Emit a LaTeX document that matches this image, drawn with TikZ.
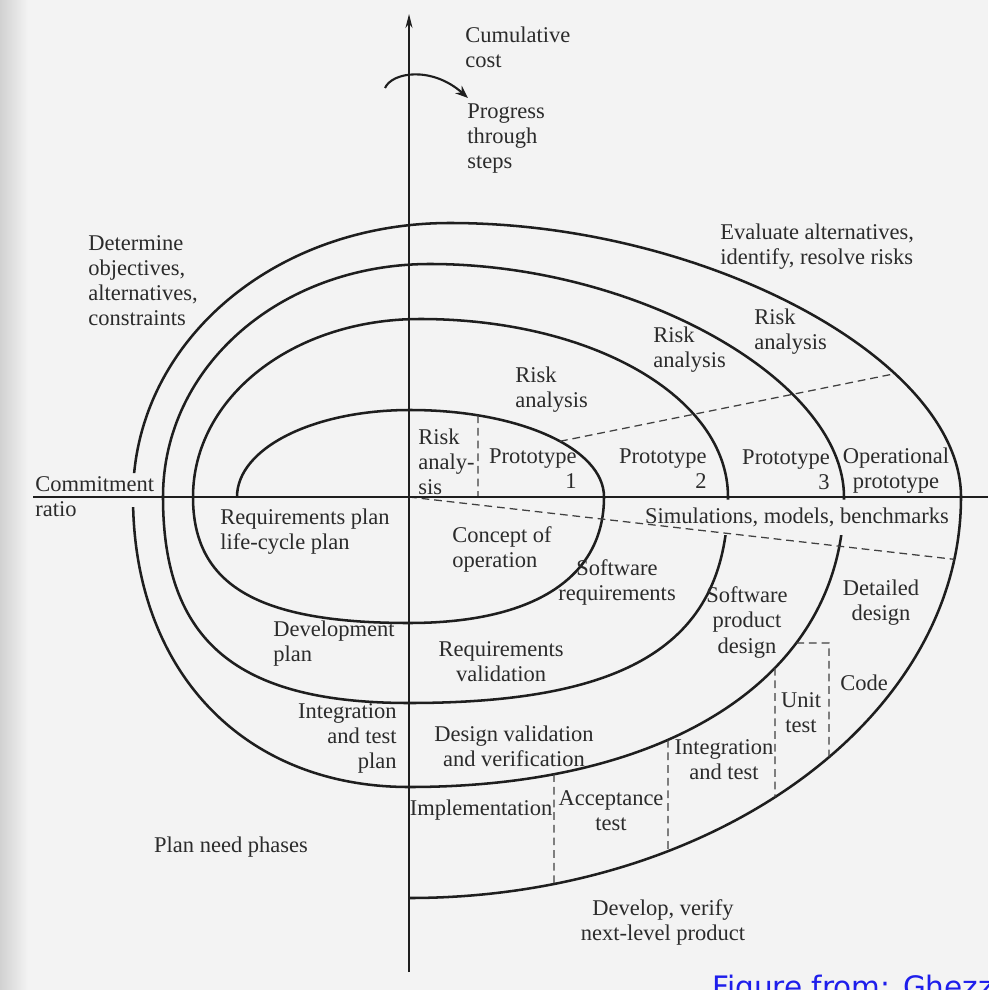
\documentclass[tikz,border=0pt]{standalone}
\usepackage{fontspec}
\setmainfont{Liberation Serif}
\newfontfamily\notefont{DejaVu Sans}
\usetikzlibrary{arrows.meta,intersections}
\definecolor{paper}{HTML}{F3F3F3}
\definecolor{ink}{HTML}{1E1E1E}
\definecolor{txt}{HTML}{2B2B2B}
\definecolor{noteblue}{RGB}{30,30,235}

\begin{document}
\begin{tikzpicture}[x=0.025cm,y=-0.025cm,
  spiral/.style={draw=ink,line width=1.8pt,line join=round},
  axisline/.style={draw=ink,line width=0.9pt},
  divider/.style={draw=ink!85,line width=0.9pt,dash pattern=on 5.5pt off 3.5pt},
  lbl/.style={inner sep=0pt,text=txt,font=\fontsize{16}{17.8}\selectfont},
]
\useasboundingbox (0,0) rectangle (988,990);
\fill[paper] (0,0) rectangle (988,990);
\shade[left color=black!18,right color=paper] (0,0) rectangle (28,990);

% ---------- the spiral (gaps left for two labels) ----------
\begin{scope}[even odd rule]
\clip (-5,-5) rectangle (995,995)
      (636,499.5) rectangle (955,535)
      (120,473) rectangle (146,507);
\draw[spiral] (237,497)
 .. controls (237,448.3) and (313.1,410) .. (410,410)
 .. controls (518.6,410) and (604,448.3) .. (604,497)
 .. controls (604,577.6) and (533.8,623) .. (409,623)
 .. controls (257.8,623) and (193,585.2) .. (193,497)
 .. controls (193,397.3) and (292.9,319) .. (420,319)
 .. controls (592.5,319) and (728,397.3) .. (728,497)
 .. controls (728,641.2) and (632.3,703) .. (409,703)
 .. controls (236.8,703) and (163,641.2) .. (163,497)
 .. controls (163,366.5) and (280.5,264) .. (430,264)
 .. controls (637,264) and (844,380.5) .. (844,497)
 .. controls (844,673.9) and (674.4,787) .. (409,787)
 .. controls (243.4,787) and (133,671) .. (133,497)
 .. controls (133,343.6) and (272.5,223) .. (450,223)
 .. controls (705.5,223) and (961,360) .. (961,497)
 .. controls (961,718.4) and (713.7,898) .. (409,898);
\end{scope}

% turns of the spiral used to place the dashed dividers
\path[name path=aone] (410,410) .. controls (518.6,410) and (604,448.3) .. (604,497);
\path[name path=afour] (450,223) .. controls (705.5,223) and (961,360) .. (961,497);
\path[name path=bthree] (844,497) .. controls (844,673.9) and (674.4,787) .. (409,787);
\path[name path=bfour] (961,497) .. controls (961,718.4) and (713.7,898) .. (409,898);

\coordinate (O) at (409,497);
\coordinate (axR) at (478,497);

\path[name path=v478] (478,300) -- (478,497);
\path[name intersections={of=aone and v478,by=ra}];
\path[name path=v560] (560,300) -- (560,497);
\path[name intersections={of=aone and v560,by=ua}];
\path[name path=v895] (895,200) -- (895,497);
\path[name intersections={of=afour and v895,by=ub}];
\path[name path=low] (409,497) -- (990,563.4);
\path[name intersections={of=bfour and low,by=lb}];

\path[name path=v554] (554,500) -- (554,990);
\path[name intersections={of=bthree and v554,by=pa}];
\path[name intersections={of=bfour and v554,by=qa}];
\path[name path=v668] (668,500) -- (668,990);
\path[name intersections={of=bthree and v668,by=pb}];
\path[name intersections={of=bfour and v668,by=qb}];
\path[name path=v775] (775,500) -- (775,990);
\path[name intersections={of=bthree and v775,by=pc}];
\path[name intersections={of=bfour and v775,by=qc}];
\path[name path=h643] (700,643) -- (900,643);
\path[name intersections={of=bthree and h643,by=ta}];
\coordinate (tb) at (829,643);
\path[name path=v829] (829,643) -- (829,990);
\path[name intersections={of=bfour and v829,by=tc}];

% ---------- dashed dividers ----------
\draw[divider] (ra) -- (axR);
\draw[divider] (ua) -- (ub);
\draw[divider] (O) -- (lb);
\draw[divider] (pa) -- (qa);
\draw[divider] (pb) -- (qb);
\draw[divider] (pc) -- (qc);
\draw[divider] (ta) -- (tb) -- (tc);

% ---------- axes ----------
\coordinate (ytop) at (409,14);
\coordinate (ybot) at (409,972);
\coordinate (xleft) at (33,497);
\coordinate (xright) at (988,497);
\draw[axisline,-{Stealth[length=10pt,width=5pt]}] (ybot) -- (ytop);
\draw[axisline] (xleft) -- (xright);

% progress arrow
\coordinate (pgs) at (385,88);
\coordinate (pge) at (468,98);
\draw[ink,line width=1.5pt,-{Stealth[length=9pt,width=7pt]}] (pgs) .. controls (392,72) and (432,66) .. (pge);

% ---------- labels ----------
\node[lbl,align=left,anchor=west] (cum) at (465,47) {Cumulative\\cost};
\node[lbl,align=left,anchor=west] (prog) at (467,139) {Progress\\through\\steps};
\node[lbl,align=left,anchor=west] (det) at (88,281) {Determine\\objectives,\\alternatives,\\constraints};
\node[lbl,align=left,anchor=west] (eval) at (720,247) {Evaluate alternatives,\\identify, resolve risks};
\node[lbl,align=left,anchor=west] (riskc) at (754,332) {Risk\\analysis};
\node[lbl,align=left,anchor=west] (riskb) at (653,349.5) {Risk\\analysis};
\node[lbl,align=left,anchor=west] (riska) at (515,389.5) {Risk\\analysis};
\node[lbl,align=left,anchor=west] (risk0) at (418,462) {Risk\\analy-\\sis};
\node[lbl,align=right,anchor=east] (pone) at (577,468.5) {Prototype\\1};
\node[lbl,align=right,anchor=east] (ptwo) at (707,469) {Prototype\\2};
\node[lbl,align=right,anchor=east] (pthree) at (830,470) {Prototype\\3};
\node[lbl,align=center] (oper) at (896,471) {Operational\\prototype};
\node[lbl,align=left,anchor=west] (commit) at (35,497) {Commitment\\ratio};
\node[lbl] (sim) at (797,517) {Simulations, models, benchmarks};
\node[lbl,align=left,anchor=west] (reqplan) at (220,531.5) {Requirements plan\\life-cycle plan};
\node[lbl,align=left,anchor=west] (concept) at (452,549.5) {Concept of\\operation};
\node[lbl,align=center] (swreq) at (617,582.5) {Software\\requirements};
\node[lbl,align=center] (swprod) at (747,622.5) {Software\\product\\design};
\node[lbl,align=center] (detdes) at (881,602.5) {Detailed\\design};
\node[lbl] (code) at (864,683) {Code};
\node[lbl,align=center] (unit) at (801,712.5) {Unit\\test};
\node[lbl,align=center] (integ) at (724,760) {Integration\\and test};
\node[lbl,align=center] (accept) at (611,810.5) {Acceptance\\test};
\node[lbl] (impl) at (481,810) {Implementation};
\node[lbl,align=center] (desval) at (514,746.5) {Design validation\\and verification};
\node[lbl,align=center] (reqval) at (501,661.5) {Requirements\\validation};
\node[lbl,align=left,anchor=west] (devplan) at (273,644) {Development\\plan};
\node[lbl,align=right,anchor=east] (itplan) at (397,738) {Integration\\and test\\plan};
\node[lbl] (planneed) at (231,847) {Plan need phases};
\node[lbl,align=center] (develop) at (663,922.5) {Develop, verify\\next-level product};

\node[anchor=base west,inner sep=0pt,text=noteblue,font=\notefont\fontsize{21}{24}\selectfont] (src) at (712,997) {Figure from: Ghezzi};
\end{tikzpicture}
\end{document}
